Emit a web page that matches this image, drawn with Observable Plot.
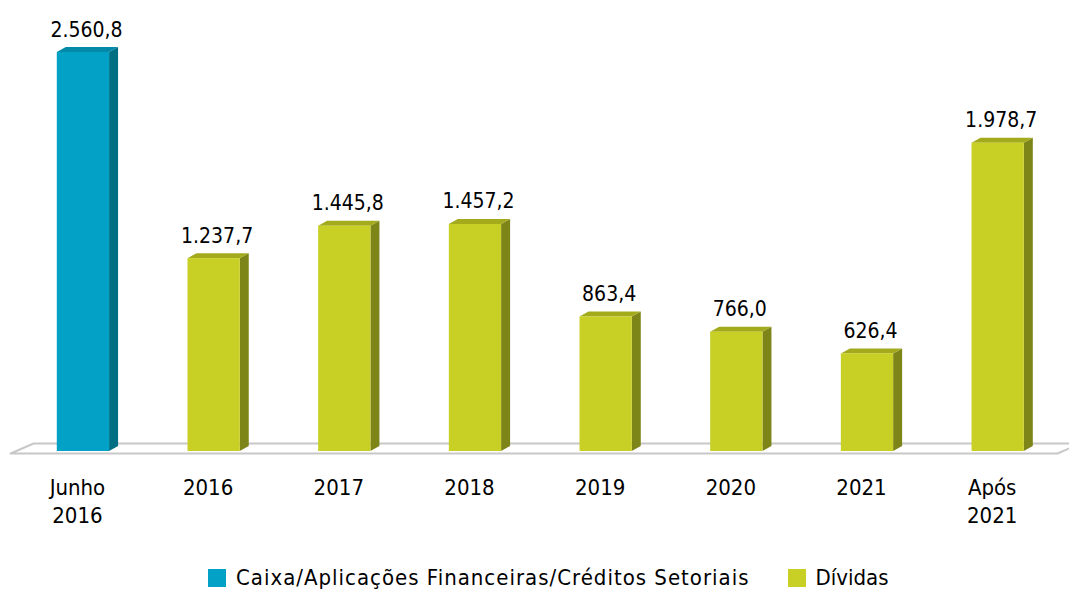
<!DOCTYPE html>
<html>
<head>
<meta charset="utf-8">
<script src="https://cdn.jsdelivr.net/npm/d3@7"></script>
<script src="https://cdn.jsdelivr.net/npm/@observablehq/plot@0.6"></script>
<style>
  html, body { margin: 0; padding: 0; background: #fff; overflow: hidden; }
  #wrap { position: relative; width: 1069px; height: 589px; font-family: "DejaVu Sans Condensed", "DejaVu Sans", sans-serif; font-stretch: condensed; }
  #legend { position: absolute; left: 208px; top: 567px; display: flex; align-items: center; font-size: 22px; color: #000; line-height: 22px; }
  .item { display: flex; align-items: center; }
  .sw { width: 18px; height: 18px; margin-right: 10px; }
</style>
</head>
<body>
<div id="wrap"><div id="chart"></div><div id="legend"></div></div>
<script>
// ---- data ----
const categories = ["Junho\n2016", "2016", "2017", "2018", "2019", "2020", "2021", "Após\n2021"];
const values = [2560.8, 1237.7, 1445.8, 1457.2, 863.4, 766.0, 626.4, 1978.7];
const seriesNames = ["Caixa/Aplicações Financeiras/Créditos Setoriais", "Dívidas"];
const barSeries = [0, 1, 1, 1, 1, 1, 1, 1];
const frontColors = ["#04A1C7", "#C8D025"];
const sideColors = ["#006F83", "#7D8418"];
const topColors = ["#0589A8", "#A3AA1B"];

// ---- layout ----
const W = 1069, H = 540;
const xRange = [11.6, 1057], yRange = [451, 52];
const yMax = values[0];
const kx = (xRange[1] - xRange[0]) / categories.length;
const ky = (yRange[0] - yRange[1]) / yMax;
const half = 0.2;                 // half bar width (in category units)
const dU = 9 / kx, dV = 5 / ky;   // bar depth
const fU = 23 / kx, fV = 10 / ky; // floor depth
const fmt = d3.formatLocale({decimal: ",", thousands: ".", grouping: [3]}).format(",.1f");

const bars = values.map((v, i) => ({i, v, s: barSeries[i], label: fmt(v)}));
const sideFace = bars.flatMap(b => [
  {i: b.i, s: b.s, x: b.i + half, y1: 0, y2: b.v},
  {i: b.i, s: b.s, x: b.i + half + dU, y1: dV, y2: b.v + dV}
]);
const topFace = bars.flatMap(b => [
  {i: b.i, s: b.s, y: b.v, x1: b.i - half, x2: b.i + half},
  {i: b.i, s: b.s, y: b.v + dV, x1: b.i - half + dU, x2: b.i + half + dU}
]);
const yFront = -2 / ky, yBack = yFront + fV;
const floorPts = [
  {x: -0.5 - 1.5 / kx, y: yFront},
  {x: categories.length - 0.5, y: yFront},
  {x: categories.length - 0.5 + fU, y: yBack},
  {x: -0.5 - 1.5 / kx + fU, y: yBack},
  {x: -0.5 - 1.5 / kx, y: yFront}
];

const marks = [
  Plot.line(floorPts, {x: "x", y: "y", stroke: "#C8C8C8", strokeWidth: 2, curve: "linear"})
];
seriesNames.forEach((name, s) => {
  marks.push(
    Plot.area(sideFace.filter(d => d.s === s), {x1: "x", y1: "y1", y2: "y2", z: "i", fill: sideColors[s], dx: 6}),
    Plot.area(topFace.filter(d => d.s === s), {y1: "y", x1: "x1", x2: "x2", z: "i", fill: topColors[s], dx: 6}),
    Plot.rectY(bars.filter(d => d.s === s), {x1: d => d.i - half, x2: d => d.i + half, y1: 0, y2: "v", fill: frontColors[s], dx: 6})
  );
});
marks.push(
  Plot.text(bars, {x: "i", y: "v", text: "label", dx: 9, dy: -16, lineAnchor: "bottom", fontSize: 21, fill: "#000"}),
  Plot.axisX({ticks: d3.range(categories.length), tickFormat: i => categories[i], tickSize: 0, tickPadding: 24, fontSize: 22, lineHeight: 1.27, fill: "#000"})
);

const chart = Plot.plot({
  width: W, height: H,
  marginLeft: 12, marginRight: 12, marginTop: 20, marginBottom: 89,
  x: {type: "linear", domain: [-0.5, categories.length - 0.5], range: xRange},
  y: {type: "linear", domain: [0, yMax], range: yRange, axis: null},
  style: {fontFamily: "'DejaVu Sans Condensed', 'DejaVu Sans'", fontStretch: "condensed", fontSize: "20px", color: "#000", background: "#fff", overflow: "hidden"},
  marks
});
document.getElementById("chart").appendChild(chart);

const legend = document.getElementById("legend");
seriesNames.forEach((name, s) => {
  const it = document.createElement("div");
  it.className = "item";
  if (s > 0) it.style.marginLeft = "38px";
  const sw = document.createElement("div");
  sw.className = "sw";
  sw.style.background = frontColors[s];
  const t = document.createElement("span");
  t.textContent = name;
  if (s === 0) t.style.letterSpacing = "1px";
  it.appendChild(sw); it.appendChild(t);
  legend.appendChild(it);
});
</script>
</body>
</html>
